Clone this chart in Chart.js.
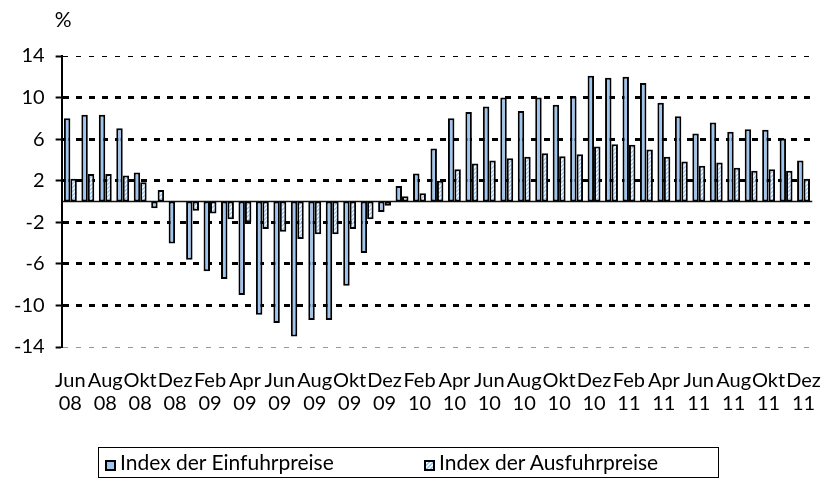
<!DOCTYPE html>
<html>
<head>
<meta charset="utf-8">
<script src="https://cdn.jsdelivr.net/npm/chart.js@4"></script>
<style>
  html, body { margin: 0; padding: 0; background: #fff; }
  #wrap { position: relative; width: 825px; height: 479px; }
  #legend {
    position: absolute; left: 98px; top: 447px; width: 621px; height: 31px;
    box-sizing: border-box; border: 1.5px solid #000;
    font-family: Lato, sans-serif; font-size: 21px; color: #000;
  }
  #legend .item { position: absolute; top: 0; height: 28px; line-height: 28px; white-space: nowrap; }
  #legend .box {
    display: inline-block; width: 11px; height: 11px; box-sizing: border-box;
    border: 2px solid #000; margin-right: 4px; vertical-align: -1px;
  }
</style>
</head>
<body>
<div id="wrap">
  <canvas id="preisChart" width="825" height="479"></canvas>
  <div id="legend">
    <span class="item" style="left:6px"><span class="box" style="background:#9ec5f0"></span>Index der Einfuhrpreise</span>
    <span class="item" style="left:325px"><span class="box" style="background:repeating-linear-gradient(135deg,#fff 0 1.5px,#9ec5f0 1.5px 3px)"></span>Index der Ausfuhrpreise</span>
  </div>
</div>
<script>
const months = [
  "Jun 08", "Jul 08", "Aug 08", "Sep 08", "Okt 08", "Nov 08", "Dez 08",
  "Jan 09", "Feb 09", "Mär 09", "Apr 09", "Mai 09", "Jun 09", "Jul 09", "Aug 09", "Sep 09", "Okt 09", "Nov 09", "Dez 09",
  "Jan 10", "Feb 10", "Mär 10", "Apr 10", "Mai 10", "Jun 10", "Jul 10", "Aug 10", "Sep 10", "Okt 10", "Nov 10", "Dez 10",
  "Jan 11", "Feb 11", "Mär 11", "Apr 11", "Mai 11", "Jun 11", "Jul 11", "Aug 11", "Sep 11", "Okt 11", "Nov 11", "Dez 11"
];
const einfuhr = [
  8.0, 8.35, 8.35, 7.05, 2.8, -0.65, -4.05,
  -5.6, -6.7, -7.45, -9.0, -10.9, -11.7, -13.0, -11.4, -11.4, -8.1, -4.95, -1.0,
  1.5, 2.7, 5.1, 8.0, 8.6, 9.15, 10.0, 8.7, 10.0, 9.3, 10.1, 12.1,
  11.9, 12.0, 11.4, 9.5, 8.2, 6.55, 7.6, 6.7, 6.95, 6.9, 6.05, 3.95
];
const ausfuhr = [
  2.2, 2.65, 2.65, 2.5, 1.85, 1.1, 0.0,
  -0.9, -1.15, -1.7, -2.0, -2.65, -2.9, -3.6, -3.15, -3.15, -2.65, -1.7, -0.4,
  0.5, 0.8, 2.0, 3.1, 3.65, 3.95, 4.15, 4.3, 4.65, 4.35, 4.55, 5.3,
  5.5, 5.45, 5.0, 4.3, 3.85, 3.45, 3.75, 3.25, 2.95, 3.1, 2.95, 2.2
];
const yTicks = [-14, -10, -6, -2, 2, 6, 10, 14];

const blue = "#9ec5f0";
const font = { family: "Lato, sans-serif", size: 20, lineHeight: 1.15 };

// hatch pattern for the export bars
function hatch() {
  const c = document.createElement("canvas");
  c.width = 4; c.height = 4;
  const g = c.getContext("2d");
  g.fillStyle = "#fff";
  g.fillRect(0, 0, 4, 4);
  g.strokeStyle = blue;
  g.lineWidth = 1.5;
  g.beginPath();
  g.moveTo(0, 4); g.lineTo(4, 0);
  g.moveTo(-1, 1); g.lineTo(1, -1);
  g.moveTo(3, 5); g.lineTo(5, 3);
  g.stroke();
  return g.createPattern(c, "repeat");
}

const extras = {
  id: "extras",
  beforeDatasetsDraw(chart) {
    const { ctx, chartArea, scales } = chart;
    const y0 = scales.y.getPixelForValue(0);
    ctx.save();
    ctx.strokeStyle = "#111";
    ctx.lineWidth = 1.5;
    ctx.beginPath();
    ctx.moveTo(chartArea.left, y0);
    ctx.lineTo(chartArea.right, y0);
    ctx.stroke();
    ctx.restore();
  },
  afterDraw(chart) {
    const { ctx, chartArea } = chart;
    ctx.save();
    ctx.fillStyle = "#000";
    ctx.font = "21px Lato, sans-serif";
    ctx.textAlign = "left";
    ctx.textBaseline = "alphabetic";
    ctx.fillText("%", chartArea.left - 7, chartArea.top - 29);
    ctx.restore();
  }
};

const ctx = document.querySelector("#preisChart").getContext("2d");

const data = {
  labels: months.map((m) => m.split(" ")),
  datasets: [
    {
      label: "Index der Einfuhrpreise",
      data: einfuhr,
      backgroundColor: blue,
      borderColor: "#000",
      borderWidth: 2,
      borderSkipped: false,
      categoryPercentage: 0.74,
      barPercentage: 1,
    },
    {
      label: "Index der Ausfuhrpreise",
      data: ausfuhr,
      backgroundColor: hatch(),
      borderColor: "#000",
      borderWidth: 2,
      borderSkipped: false,
      categoryPercentage: 0.74,
      barPercentage: 1,
    },
  ],
};

const config = {
  type: "bar",
  data: data,
  plugins: [extras],
  options: {
    responsive: false,
    animation: false,
    layout: { padding: { left: 3, right: 12, top: 56, bottom: 60 } },
    scales: {
      x: {
        // tick marks hidden, their length only spaces the labels
        grid: { display: false, drawTicks: true, tickLength: 18 },
        border: { display: false },
        ticks: {
          autoSkip: false,
          maxRotation: 0,
          minRotation: 0,
          padding: 4,
          color: "#000",
          font: font,
          callback: function (val, i) {
            return i % 2 === 0 ? this.getLabelForValue(val) : "";
          },
        },
      },
      y: {
        min: -14,
        max: 14,
        afterBuildTicks: (scale) => {
          scale.ticks = yTicks.map((v) => ({ value: v }));
        },
        grid: {
          color: (c) => (c.tick && c.tick.value === -14 ? "#999" : "#000"),
          lineWidth: (c) => (c.tick && Math.abs(c.tick.value) === 14 ? 1 : 3),
          tickColor: "#000",
          tickWidth: 2,
          tickLength: 6,
        },
        border: {
          color: "#000",
          width: 2,
          dash: (c) => (c.tick && Math.abs(c.tick.value) === 14 ? [5, 8] : [6, 7]),
        },
        ticks: {
          padding: 11,
          color: "#000",
          font: font,
        },
      },
    },
    plugins: {
      legend: { display: false },
      tooltip: { enabled: false },
    },
  },
};

const preisChart = new Chart(ctx, config);
</script>
</body>
</html>
